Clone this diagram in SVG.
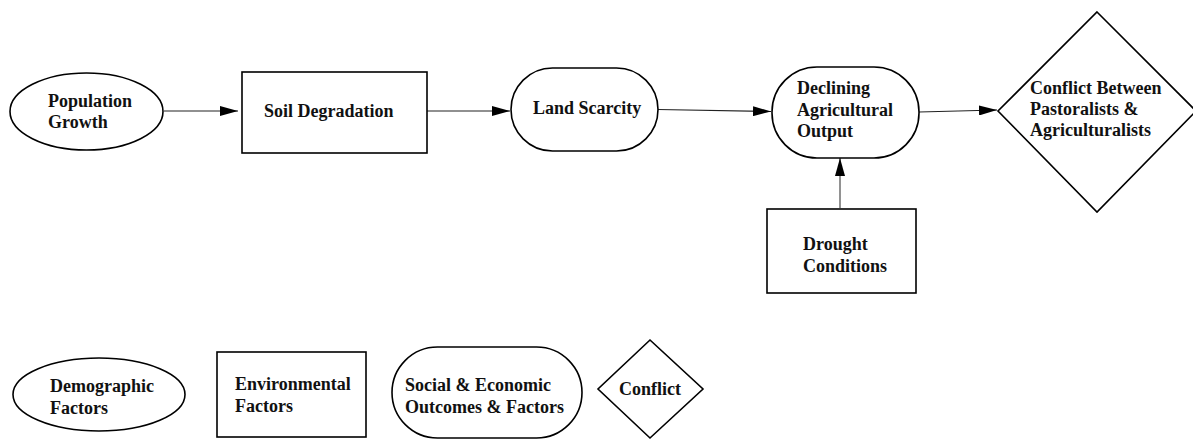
<svg xmlns="http://www.w3.org/2000/svg" width="1193" height="440" viewBox="0 0 1193 440">
  <defs>
    <marker id="arrow" markerUnits="userSpaceOnUse" markerWidth="18" markerHeight="10" refX="18" refY="5" orient="auto">
      <path d="M0,0 L18,5 L0,10 z" fill="#000"/>
    </marker>
    <style>
      .shape { fill: #fff; stroke: #000; stroke-width: 1.6; }
      .label { font-family: "Liberation Serif", "Times New Roman", serif; font-weight: bold; font-size: 18px; fill: #111; }
      .edge { fill: none; stroke: #222; stroke-width: 1.1; marker-end: url(#arrow); }
      .edge.grey { stroke: #777; stroke-width: 1.6; }
    </style>
  </defs>
  <rect width="1193" height="440" fill="#fff"/>

  <!-- connectors -->
  <g id="connectors">
    <line class="edge" x1="164" y1="111" x2="238" y2="111"/>
    <line class="edge" x1="427" y1="111" x2="510" y2="111"/>
    <line class="edge" x1="658" y1="109.5" x2="771" y2="111.5"/>
    <line class="edge" x1="919" y1="112" x2="997" y2="110"/>
    <line class="edge grey" x1="840" y1="208" x2="840" y2="158"/>
  </g>

  <!-- main chain -->
  <g id="population-growth">
    <ellipse class="shape" cx="86.5" cy="111.5" rx="76.5" ry="38.5"/>
    <text class="label" x="48" y="107">Population</text>
    <text class="label" x="48" y="128">Growth</text>
  </g>

  <g id="soil-degradation">
    <rect class="shape" x="242" y="72" width="185" height="81"/>
    <text class="label" x="264" y="117">Soil Degradation</text>
  </g>

  <g id="land-scarcity">
    <rect class="shape" x="511" y="68" width="147" height="83" rx="41.5" ry="41.5"/>
    <text class="label" x="533" y="114">Land Scarcity</text>
  </g>

  <g id="declining-output">
    <rect class="shape" x="772" y="67" width="147" height="91" rx="45" ry="45"/>
    <text class="label" x="797" y="94">Declining</text>
    <text class="label" x="797" y="116">Agricultural</text>
    <text class="label" x="797" y="137">Output</text>
  </g>

  <g id="conflict-main">
    <polygon class="shape" points="1097,12 1196,111 1097,212 998,111"/>
    <text class="label" x="1030" y="94">Conflict Between</text>
    <text class="label" x="1030" y="115">Pastoralists &amp;</text>
    <text class="label" x="1030" y="136">Agriculturalists</text>
  </g>

  <g id="drought-conditions">
    <rect class="shape" x="767" y="209" width="149" height="84"/>
    <text class="label" x="803" y="250">Drought</text>
    <text class="label" x="803" y="272">Conditions</text>
  </g>

  <!-- legend -->
  <g id="legend-demographic">
    <ellipse class="shape" cx="99" cy="394.5" rx="86" ry="36.5"/>
    <text class="label" x="50" y="392">Demographic</text>
    <text class="label" x="50" y="414">Factors</text>
  </g>

  <g id="legend-environmental">
    <rect class="shape" x="217" y="352" width="149" height="85"/>
    <text class="label" x="235" y="390">Environmental</text>
    <text class="label" x="235" y="412">Factors</text>
  </g>

  <g id="legend-social">
    <rect class="shape" x="392" y="347" width="190" height="91" rx="45.5" ry="45.5"/>
    <text class="label" x="405" y="391">Social &amp; Economic</text>
    <text class="label" x="405" y="413">Outcomes &amp; Factors</text>
  </g>

  <g id="legend-conflict">
    <polygon class="shape" points="650,340 703,389 650,438 598,389"/>
    <text class="label" x="619" y="395">Conflict</text>
  </g>
</svg>
